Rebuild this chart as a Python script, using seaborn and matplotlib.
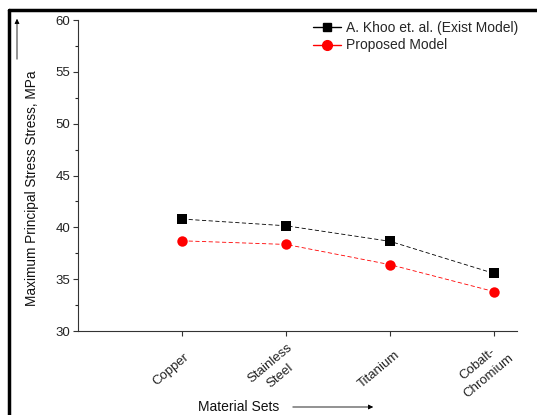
import numpy as np
import pandas as pd
import matplotlib
matplotlib.use('Agg')
import matplotlib.pyplot as plt
import matplotlib.transforms as mtransforms
from matplotlib.lines import Line2D
from matplotlib.ticker import MultipleLocator
import seaborn as sns

# 数据
materials = ['Copper', 'Stainless Steel', 'Titanium', 'Cobalt-Chromium']
tick_labels = ['Copper', 'Stainless\nSteel', 'Titanium', 'Cobalt-\nChromium']
khoo = [40.8, 40.15, 38.65, 35.55]
proposed = [38.7, 38.35, 36.4, 33.8]
series_names = ['A. Khoo et. al. (Exist Model)', 'Proposed Model']

df = pd.DataFrame({
    'material': materials * 2,
    'stress': khoo + proposed,
    'model': [series_names[0]] * 4 + [series_names[1]] * 4,
})

sns.set_style('ticks')
plt.rcParams['font.family'] = ['Liberation Sans', 'DejaVu Sans']

fig = plt.figure(figsize=(5.37, 4.15), dpi=100)
ax = fig.add_axes([78 / 537, 1 - 331 / 415, (517 - 78) / 537, (331 - 20) / 415])

palette = {series_names[0]: 'black', series_names[1]: 'red'}
markers = {series_names[0]: 's', series_names[1]: 'o'}
sns.lineplot(data=df, x='material', y='stress', hue='model', style='model',
             palette=palette, markers=markers, dashes={series_names[0]: (5, 3), series_names[1]: (5, 3)},
             markersize=7.5, linewidth=0.6, markeredgewidth=0, ax=ax, legend=False, sort=False)
ax.lines[0].set_markersize(7)

ax.set_xlim(-1, 3.22)
ax.set_ylim(30, 60)
ax.set_xticks(range(len(materials)))
ax.set_xticklabels([])
ax.yaxis.set_major_locator(MultipleLocator(5))
ax.yaxis.set_minor_locator(MultipleLocator(2.5))
ax.tick_params(axis='both', direction='out', length=3.6, width=0.8, color='#333333')
ax.tick_params(axis='y', which='minor', length=2.2, width=0.8)
ax.tick_params(axis='y', labelsize=9.5, labelcolor='#222222', pad=2)
for s in ['top', 'right']:
    ax.spines[s].set_visible(False)
for s in ['left', 'bottom']:
    ax.spines[s].set_linewidth(0.8)
    ax.spines[s].set_color('#333333')

# 旋转的x轴标签
lab_trans = mtransforms.blended_transform_factory(ax.transData, ax.transAxes) + \
    mtransforms.ScaledTranslation(-11 / 100, -39 / 100, fig.dpi_scale_trans)
for i, lab in enumerate(tick_labels):
    ax.text(i, 0, lab, transform=lab_trans, rotation=40, rotation_mode='anchor',
            ha='center', va='center', multialignment='center', linespacing=1.5,
            fontsize=9.5, color='#222222', clip_on=False)

ax.set_xlabel('')
ax.set_ylabel('')
fig.text(32 / 537, 1 - 188 / 415, 'Maximum Principal Stress Stress, MPa', rotation=90,
         ha='center', va='center', fontsize=9.8, color='#111111')
fig.text(239 / 537, 1 - 407 / 415, 'Material Sets', ha='center', va='center',
         fontsize=10, color='#111111')

# 箭头
ax.annotate('', xy=(17 / 537, 1 - 16 / 415), xytext=(17 / 537, 1 - 62 / 415),
            xycoords='figure fraction', textcoords='figure fraction',
            arrowprops=dict(arrowstyle='-|>', color='black', lw=0.6, mutation_scale=7))
ax.annotate('', xy=(376 / 537, 1 - 407 / 415), xytext=(290 / 537, 1 - 407 / 415),
            xycoords='figure fraction', textcoords='figure fraction',
            arrowprops=dict(arrowstyle='-|>', color='black', lw=0.6, mutation_scale=7))

handles = [Line2D([], [], color='black', marker='s', markersize=6, lw=1),
           Line2D([], [], color='red', marker='o', markersize=7, lw=1)]
ax.legend(handles, series_names, loc='upper left', bbox_to_anchor=(313 / 537, 1 - 21 / 415),
          bbox_transform=fig.transFigure, frameon=False, fontsize=10, handlelength=2.0,
          handletextpad=0.4, labelspacing=0.25, borderaxespad=0, borderpad=0)

# 外框
fig.add_artist(Line2D([9 / 537, 1], [1 - 10 / 415, 1 - 10 / 415], color='black', lw=2.5))
fig.add_artist(Line2D([9 / 537, 9 / 537], [0, 1 - 10 / 415], color='black', lw=2.5))

fig.savefig('out.png', dpi=100)
